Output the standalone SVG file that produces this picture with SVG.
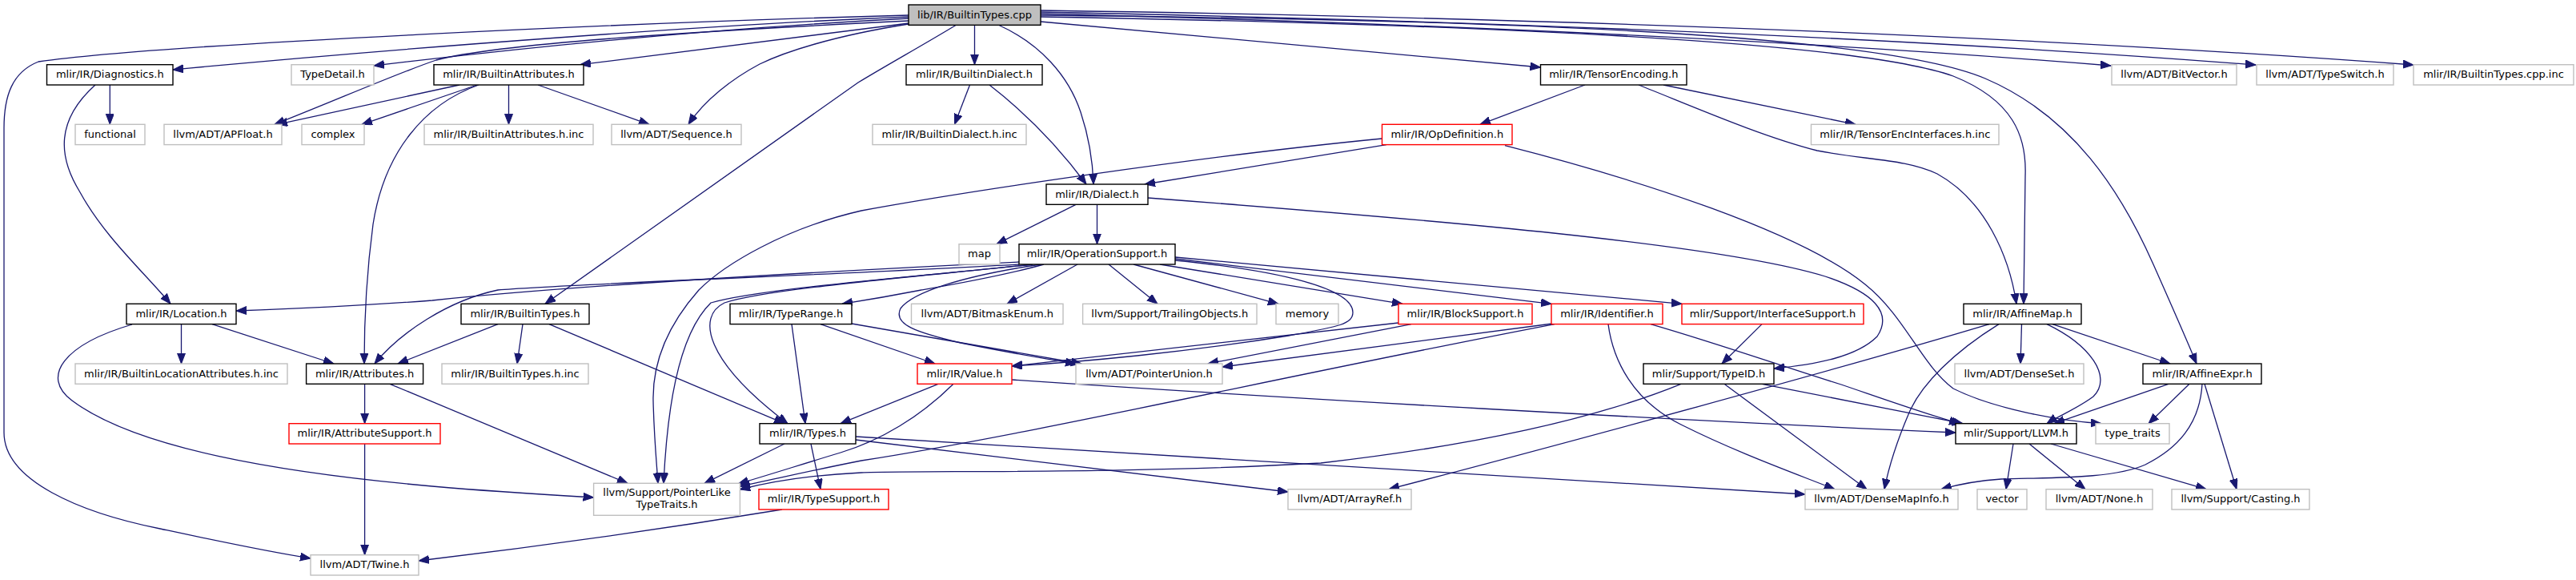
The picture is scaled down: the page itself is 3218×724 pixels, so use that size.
<svg xmlns="http://www.w3.org/2000/svg" width="3218" height="724" viewBox="0 0 3218 724">
<style>
.node rect{fill:#fff;stroke:#000;stroke-width:1.4}
.node.root rect{fill:#bfbfbf}
.node.ext rect{stroke:#bfbfbf}
.node.trunc rect{stroke:#ff0000}
.node text{font-family:"DejaVu Sans",sans-serif;font-size:13px;text-anchor:middle;fill:#000}
#edges path{fill:none;stroke:#191970;stroke-width:1.3;marker-end:url(#a)}
</style>
<defs>
<marker id="a" markerWidth="14" markerHeight="11" refX="13" refY="5" orient="auto" markerUnits="userSpaceOnUse"><path d="M0,0L13,5L0,10z" fill="#191970" stroke="#191970" stroke-width="1"/></marker>
</defs>
<rect width="3218" height="724" fill="#fff"/>
<g id="edges">
<path d="M1217.5,31.3 L1217.5,80.7"/>
<path d="M1248,31.5 C1300,55 1335,95 1350,140 C1360,170 1365,200 1366,230"/>
<path d="M1135,21 C900,30 500,60 216,87"/>
<path d="M1135,23 C900,35 650,60 467,82"/>
<path d="M1135,26 C850,40 620,55 545,75 C500,90 420,125 343,155.3"/>
<path d="M1135,29 L725,80.7"/>
<path d="M1135,30 C1040,45 980,65 949,80 C915,98 880,125 860,155.3"/>
<path d="M1194,31.5 C1150,58 1110,80 1072,103 L681,379.3"/>
<path d="M1135,19 C800,28 200,55 48,77 C15,90 5,120 5,160 L5,540 C5,600 100,640 200,660 C270,675 330,688 388,697"/>
<path d="M1300,27 L1924.5,84"/>
<path d="M1300,21 C1700,28 2300,45 2440,95 C2515,125 2532,170 2530,220 L2528,379.3"/>
<path d="M1300,19 C1800,24 2340,38 2480,98 C2590,145 2650,240 2690,330 C2710,375 2730,420 2744,454"/>
<path d="M1300,17 Q2100,38 2637,82"/>
<path d="M1300,15 Q2200,33 2818,81"/>
<path d="M1300,13 Q2300,28 3015,81"/>
<path d="M137.3,106 L137.3,155.3"/>
<path d="M119,106 C70,150 72,195 100,240 C130,295 180,340 213,379.3"/>
<path d="M574,106 L346,155.3"/>
<path d="M596,106 L452,155.3"/>
<path d="M598,106 C530,130 480,190 466,280 C458,340 455,400 455,454"/>
<path d="M635.5,106 L635.5,155.3"/>
<path d="M672,106 L811,155.3"/>
<path d="M1211.5,106 L1192.5,155.3"/>
<path d="M1236,106 C1280,140 1320,180 1357,230"/>
<path d="M1980,106 L1849,155.3"/>
<path d="M2078,106 L2318,155.3"/>
<path d="M2047,106 C2120,135 2200,170 2270,188 C2330,200 2380,198 2420,217 C2480,250 2510,320 2519,379.3"/>
<path d="M1732,180.6 L1430,230"/>
<path d="M1726.5,173 C1500,195 1200,240 1076,263 C980,285 905,330 873,362 C835,405 815,450 816,500 C817,545 820,575 822,603.3"/>
<path d="M1880,181.7 C2050,225 2250,290 2330,355 C2380,395 2400,455 2440,485 C2490,510 2570,525 2625,528.7"/>
<path d="M1344,255.3 L1245,304.7"/>
<path d="M1370.5,255.3 L1370.5,304.7"/>
<path d="M1434,247 C1800,275 2150,305 2280,345 C2340,365 2365,390 2345,420 C2320,445 2270,455 2216,460"/>
<path d="M1273,327 C1000,340 700,358 540,375 C450,382 380,385 295,388"/>
<path d="M1273,330 C1000,345 700,355 622,362 C560,375 500,415 468,454"/>
<path d="M1304,330 C1250,345 1180,357 1151,362 C1110,370 1080,375 1052,379.3"/>
<path d="M1290,330 C1150,345 960,360 905,378 C870,395 880,450 984,528.7"/>
<path d="M1290,330 C1150,345 950,360 888,378 C845,420 833,520 829,603.3"/>
<path d="M1300,330 C1200,345 1140,365 1125,385 C1115,405 1145,415 1200,428 C1260,440 1300,447 1344,454"/>
<path d="M1346,330 L1258,379.3"/>
<path d="M1385,330 L1446,379.3"/>
<path d="M1416,330 L1597,379.3"/>
<path d="M1449,330 L1752,379.3"/>
<path d="M1468,323 L1938,379.3"/>
<path d="M1468,321 L2101,379.3"/>
<path d="M1468,325 C1600,338 1690,360 1690,390 C1690,405 1670,408 1610,419 C1480,440 1350,452 1264,457"/>
<path d="M226.5,404.6 L226.5,454"/>
<path d="M265,404.6 L417,454"/>
<path d="M165,405 C80,430 50,470 90,500 C170,560 350,590 540,607 C620,614 690,618 741.6,621"/>
<path d="M653,404.6 L646,454"/>
<path d="M622,404.6 L497,454"/>
<path d="M686,404.6 L980,528.7"/>
<path d="M989,404.6 L1006,528.7"/>
<path d="M1025,404.6 L1168,454"/>
<path d="M1064,404 L1351,454"/>
<path d="M455.6,479.3 L455.6,528.7"/>
<path d="M487,479.3 L784,603.3"/>
<path d="M455.6,554 L455.6,692.7"/>
<path d="M1172,479.3 L1050,528.7"/>
<path d="M1191,479.3 C1150,520 1100,550 1050,565 C1000,580 960,593 922,604"/>
<path d="M1264,474 C1600,497 2100,525 2443,540"/>
<path d="M1747,403 L1264,457"/>
<path d="M1763,404.6 L1509,454"/>
<path d="M1939,404 L1527,458"/>
<path d="M1942,404.6 C1600,470 1300,540 1076,575 C1000,590 960,600 924,607"/>
<path d="M2009,404.6 C2015,450 2040,500 2100,530 C2170,565 2240,590 2292,610.7"/>
<path d="M2062,404.6 C2150,430 2250,465 2300,480 C2350,497 2400,515 2448,528.7"/>
<path d="M2201,404.6 L2151,454"/>
<path d="M2201,479.3 L2452,528.7"/>
<path d="M2154,479.3 L2332,610.7"/>
<path d="M2100,479.3 C2000,520 1850,555 1650,578 C1400,592 1150,587 1076,590 C1010,593 960,602 924,611"/>
<path d="M2485,404.6 C2300,460 1950,555 1735,610.7"/>
<path d="M2497,404.6 C2440,440 2400,480 2385,515 C2370,550 2360,580 2354,610.7"/>
<path d="M2525.5,404.6 L2524,454"/>
<path d="M2557,404.6 C2610,430 2640,470 2615,495 C2595,510 2570,520 2557,528.7"/>
<path d="M2564,404.6 L2711,454"/>
<path d="M2709,479.3 L2566,528.7"/>
<path d="M2735,479.3 L2684,528.7"/>
<path d="M2751,479.3 C2748,530 2720,560 2680,580 C2640,598 2560,596 2500,598 C2470,600 2445,605 2425,610.7"/>
<path d="M2754,479.3 L2794,610.7"/>
<path d="M2515,554 L2506,610.7"/>
<path d="M2535,554 L2605,610.7"/>
<path d="M2562,554 L2756,610.7"/>
<path d="M980,554 L880,603.3"/>
<path d="M1013,554 L1025,610.7"/>
<path d="M1069,549 L1609,614"/>
<path d="M1069,545 C1500,572 1900,595 2255,617"/>
<path d="M977,636 C800,665 650,685 523,700"/>
</g>
<g id="n_root" class="node root"><rect x="1135" y="6" width="165" height="25.3"/><text x="1217.5" y="22.7">lib/IR/BuiltinTypes.cpp</text></g>
<g id="n_diag" class="node"><rect x="58.5" y="80.7" width="157.5" height="25.3"/><text x="137.3" y="97.4">mlir/IR/Diagnostics.h</text></g>
<g id="n_typedetail" class="node ext"><rect x="364" y="80.7" width="103" height="25.3"/><text x="415.5" y="97.4">TypeDetail.h</text></g>
<g id="n_battr" class="node"><rect x="542" y="80.7" width="187" height="25.3"/><text x="635.5" y="97.4">mlir/IR/BuiltinAttributes.h</text></g>
<g id="n_bdialect" class="node"><rect x="1132" y="80.7" width="170" height="25.3"/><text x="1217" y="97.4">mlir/IR/BuiltinDialect.h</text></g>
<g id="n_tensorenc" class="node"><rect x="1924.5" y="80.7" width="182.5" height="25.3"/><text x="2015.8" y="97.4">mlir/IR/TensorEncoding.h</text></g>
<g id="n_bitvector" class="node ext"><rect x="2638" y="80.7" width="156" height="25.3"/><text x="2716" y="97.4">llvm/ADT/BitVector.h</text></g>
<g id="n_typeswitch" class="node ext"><rect x="2819" y="80.7" width="171" height="25.3"/><text x="2904.5" y="97.4">llvm/ADT/TypeSwitch.h</text></g>
<g id="n_cppinc" class="node ext"><rect x="3015" y="80.7" width="200" height="25.3"/><text x="3115" y="97.4">mlir/IR/BuiltinTypes.cpp.inc</text></g>
<g id="n_functional" class="node ext"><rect x="94" y="155.3" width="87" height="25.3"/><text x="137.5" y="172">functional</text></g>
<g id="n_apfloat" class="node ext"><rect x="205" y="155.3" width="147" height="25.3"/><text x="278.5" y="172">llvm/ADT/APFloat.h</text></g>
<g id="n_complex" class="node ext"><rect x="377" y="155.3" width="78" height="25.3"/><text x="416" y="172">complex</text></g>
<g id="n_battrinc" class="node ext"><rect x="530" y="155.3" width="211" height="25.3"/><text x="635.5" y="172">mlir/IR/BuiltinAttributes.h.inc</text></g>
<g id="n_sequence" class="node ext"><rect x="764" y="155.3" width="162" height="25.3"/><text x="845" y="172">llvm/ADT/Sequence.h</text></g>
<g id="n_bdialectinc" class="node ext"><rect x="1090" y="155.3" width="192" height="25.3"/><text x="1186" y="172">mlir/IR/BuiltinDialect.h.inc</text></g>
<g id="n_opdef" class="node trunc"><rect x="1726.5" y="155.3" width="162.5" height="25.3"/><text x="1807.8" y="172">mlir/IR/OpDefinition.h</text></g>
<g id="n_teiinc" class="node ext"><rect x="2262.5" y="155.3" width="234.5" height="25.3"/><text x="2379.8" y="172">mlir/IR/TensorEncInterfaces.h.inc</text></g>
<g id="n_dialect" class="node"><rect x="1307" y="230" width="127" height="25.3"/><text x="1370.5" y="246.7">mlir/IR/Dialect.h</text></g>
<g id="n_map" class="node ext"><rect x="1198" y="304.7" width="51" height="25.3"/><text x="1223.5" y="321.4">map</text></g>
<g id="n_opsupport" class="node"><rect x="1273" y="304.7" width="195" height="25.3"/><text x="1370.5" y="321.4">mlir/IR/OperationSupport.h</text></g>
<g id="n_location" class="node"><rect x="158" y="379.3" width="137" height="25.3"/><text x="226.5" y="396">mlir/IR/Location.h</text></g>
<g id="n_btypes" class="node"><rect x="576" y="379.3" width="160" height="25.3"/><text x="656" y="396">mlir/IR/BuiltinTypes.h</text></g>
<g id="n_typerange" class="node"><rect x="912" y="379.3" width="152" height="25.3"/><text x="988" y="396">mlir/IR/TypeRange.h</text></g>
<g id="n_bitmask" class="node ext"><rect x="1138.5" y="379.3" width="189.5" height="25.3"/><text x="1233.3" y="396">llvm/ADT/BitmaskEnum.h</text></g>
<g id="n_trailing" class="node ext"><rect x="1352.6" y="379.3" width="217.4" height="25.3"/><text x="1461.3" y="396">llvm/Support/TrailingObjects.h</text></g>
<g id="n_memory" class="node ext"><rect x="1594" y="379.3" width="78" height="25.3"/><text x="1633" y="396">memory</text></g>
<g id="n_blocksupport" class="node trunc"><rect x="1747" y="379.3" width="167" height="25.3"/><text x="1830.5" y="396">mlir/IR/BlockSupport.h</text></g>
<g id="n_identifier" class="node trunc"><rect x="1938" y="379.3" width="139" height="25.3"/><text x="2007.5" y="396">mlir/IR/Identifier.h</text></g>
<g id="n_ifacesupport" class="node trunc"><rect x="2101" y="379.3" width="227" height="25.3"/><text x="2214.5" y="396">mlir/Support/InterfaceSupport.h</text></g>
<g id="n_affinemap" class="node"><rect x="2453" y="379.3" width="147" height="25.3"/><text x="2526.5" y="396">mlir/IR/AffineMap.h</text></g>
<g id="n_blainc" class="node ext"><rect x="94" y="454" width="265" height="25.3"/><text x="226.5" y="470.7">mlir/IR/BuiltinLocationAttributes.h.inc</text></g>
<g id="n_attributes" class="node"><rect x="382.6" y="454" width="146" height="25.3"/><text x="455.6" y="470.7">mlir/IR/Attributes.h</text></g>
<g id="n_btypesinc" class="node ext"><rect x="552" y="454" width="183" height="25.3"/><text x="643.5" y="470.7">mlir/IR/BuiltinTypes.h.inc</text></g>
<g id="n_value" class="node trunc"><rect x="1146" y="454" width="118" height="25.3"/><text x="1205" y="470.7">mlir/IR/Value.h</text></g>
<g id="n_pointerunion" class="node ext"><rect x="1344" y="454" width="183" height="25.3"/><text x="1435.5" y="470.7">llvm/ADT/PointerUnion.h</text></g>
<g id="n_typeid" class="node"><rect x="2053" y="454" width="163" height="25.3"/><text x="2134.5" y="470.7">mlir/Support/TypeID.h</text></g>
<g id="n_denseset" class="node ext"><rect x="2442" y="454" width="161" height="25.3"/><text x="2522.5" y="470.7">llvm/ADT/DenseSet.h</text></g>
<g id="n_affineexpr" class="node"><rect x="2677" y="454" width="148" height="25.3"/><text x="2751" y="470.7">mlir/IR/AffineExpr.h</text></g>
<g id="n_attrsupport" class="node trunc"><rect x="361" y="528.7" width="189" height="25.3"/><text x="455.5" y="545.4">mlir/IR/AttributeSupport.h</text></g>
<g id="n_types" class="node"><rect x="949" y="528.7" width="120" height="25.3"/><text x="1009" y="545.4">mlir/IR/Types.h</text></g>
<g id="n_llvm" class="node"><rect x="2443" y="528.7" width="151" height="25.3"/><text x="2518.5" y="545.4">mlir/Support/LLVM.h</text></g>
<g id="n_typetraits" class="node ext"><rect x="2618" y="528.7" width="92" height="25.3"/><text x="2664" y="545.4">type_traits</text></g>
<g id="n_pointerlike" class="node ext"><rect x="741.6" y="603.3" width="182.8" height="40"/><text x="833" y="619.3">llvm/Support/PointerLike</text><text x="833" y="634.3">TypeTraits.h</text></g>
<g id="n_typesupport" class="node trunc"><rect x="948" y="610.7" width="162" height="25.3"/><text x="1029" y="627.4">mlir/IR/TypeSupport.h</text></g>
<g id="n_arrayref" class="node ext"><rect x="1609" y="610.7" width="154" height="25.3"/><text x="1686" y="627.4">llvm/ADT/ArrayRef.h</text></g>
<g id="n_densemapinfo" class="node ext"><rect x="2255" y="610.7" width="191" height="25.3"/><text x="2350.5" y="627.4">llvm/ADT/DenseMapInfo.h</text></g>
<g id="n_vector" class="node ext"><rect x="2470" y="610.7" width="62" height="25.3"/><text x="2501" y="627.4">vector</text></g>
<g id="n_none" class="node ext"><rect x="2556" y="610.7" width="133" height="25.3"/><text x="2622.5" y="627.4">llvm/ADT/None.h</text></g>
<g id="n_casting" class="node ext"><rect x="2713" y="610.7" width="172" height="25.3"/><text x="2799" y="627.4">llvm/Support/Casting.h</text></g>
<g id="n_twine" class="node ext"><rect x="388" y="692.7" width="135" height="25.3"/><text x="455.5" y="709.4">llvm/ADT/Twine.h</text></g>
</svg>
